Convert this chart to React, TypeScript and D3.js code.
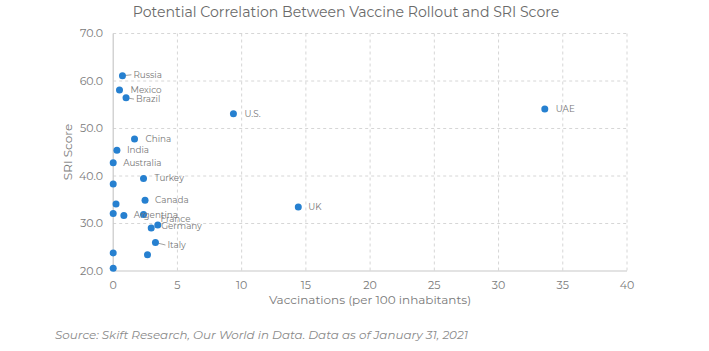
import React from "react";
import * as d3 from "d3";

const countries = ["Russia", "Mexico", "Brazil", "U.S.", "China", "India", "Australia", "Turkey", "", "Canada", "", "", "Argentina", "France", "Germany", "", "Italy", "", "", "", "UAE", "UK"];
const vaccinations = [0.72, 0.49, 1.0, 9.36, 1.66, 0.29, 0.0, 2.36, 0.0, 2.48, 0.22, 0.0, 0.83, 2.36, 2.96, 3.47, 3.29, 0.0, 2.67, 0.0, 33.6, 14.41];
const sriScores = [61.1, 58.1, 56.5, 53.1, 47.8, 45.4, 42.8, 39.5, 38.3, 34.9, 34.1, 32.1, 31.7, 31.9, 29.05, 29.7, 26.0, 23.8, 23.4, 20.6, 54.1, 33.5];
const xTicks = [0, 5, 10, 15, 20, 25, 30, 35, 40];
const yTicks = [20, 30, 40, 50, 60, 70];

// label layout (offset from point, leader line flag)
const labelLayout: Record<string, { dx: number; dy: number; leader?: boolean }> = {
  Russia: { dx: 11, dy: -1, leader: true },
  Mexico: { dx: 11, dy: 0 },
  Brazil: { dx: 10, dy: 1.5, leader: true },
  "U.S.": { dx: 11, dy: 0.5 },
  China: { dx: 11, dy: 0 },
  India: { dx: 10, dy: 0 },
  Australia: { dx: 10, dy: 0 },
  Turkey: { dx: 11, dy: 0 },
  Canada: { dx: 10, dy: 0 },
  Argentina: { dx: 10, dy: -0.5 },
  France: { dx: 17, dy: 4.5 },
  Germany: { dx: 10, dy: -2 },
  Italy: { dx: 12, dy: 2.5, leader: true },
  UAE: { dx: 11, dy: 0 },
  UK: { dx: 10, dy: 0.5 },
};

export default function App() {
  const W = 709, H = 351;
  const x = d3.scaleLinear().domain([0, 40]).range([113.2, 627]);
  const y = d3.scaleLinear().domain([20, 70]).range([271, 33.5]);
  const font = "Montserrat, 'Open Sans', 'Noto Sans', sans-serif";
  const grid = "#d6d6d6";
  const textGray = "#7a7a7a";
  const dot = "#2680d0";

  const pts = vaccinations.map((v, i) => ({ name: countries[i], v, s: sriScores[i] }));

  return (
    <svg width={W} height={H} style={{ position: "absolute", left: 0, top: 0, background: "#fff" }} fontFamily={font}>
      <text x={346} y={17} textAnchor="middle" fontSize={14.1} fill="#6a6a6a">
        Potential Correlation Between Vaccine Rollout and SRI Score
      </text>
      {yTicks.filter((t) => t > 20).map((t) => (
        <line key={"h" + t} x1={x(0)} x2={x(40)} y1={y(t)} y2={y(t)} stroke={grid} strokeDasharray="3,3" />
      ))}
      {xTicks.filter((t) => t > 0).map((t) => (
        <line key={"v" + t} x1={x(t)} x2={x(t)} y1={y(70)} y2={y(20)} stroke={grid} strokeDasharray="3,3" />
      ))}
      <line x1={x(0)} x2={x(0)} y1={y(70)} y2={y(20)} stroke="#c8c8c8" strokeWidth={1.2} />
      <line x1={x(0)} x2={x(40)} y1={y(20)} y2={y(20)} stroke="#c8c8c8" strokeWidth={1.2} />
      {yTicks.map((t) => (
        <text key={"yt" + t} x={103} y={y(t)} dy="0.35em" textAnchor="end" fontSize={11} fill={textGray}>
          {d3.format(".1f")(t)}
        </text>
      ))}
      {xTicks.map((t) => (
        <text key={"xt" + t} x={x(t)} y={289} textAnchor="middle" fontSize={11} fill={textGray}>
          {t}
        </text>
      ))}
      <text x={370} y={304} textAnchor="middle" fontSize={12} fill={textGray}>
        Vaccinations (per 100 inhabitants)
      </text>
      <text transform={`translate(72,${152}) rotate(-90)`} textAnchor="middle" fontSize={12} fill={textGray}>
        SRI Score
      </text>
      {pts.map((p, i) => {
        const l = labelLayout[p.name];
        if (!p.name || !l || !l.leader) return null;
        const cx = x(p.v), cy = y(p.s);
        return <line key={"ld" + i} x1={cx} y1={cy} x2={cx + l.dx - 2} y2={cy + l.dy} stroke="#888" strokeWidth={0.8} />;
      })}
      {pts.map((p, i) => (
        <circle key={"c" + i} cx={x(p.v)} cy={y(p.s)} r={3.5} fill={dot} />
      ))}
      {pts.map((p, i) => {
        const l = labelLayout[p.name];
        if (!p.name || !l) return null;
        return (
          <text key={"lb" + i} x={x(p.v) + l.dx} y={y(p.s) + l.dy} dy="0.35em" fontSize={8.8} fill="#777">
            {p.name}
          </text>
        );
      })}
      <text x={55} y={339} fontSize={11.9} fontStyle="italic" fill="#8a8a8a">
        Source: Skift Research, Our World in Data. Data as of January 31, 2021
      </text>
    </svg>
  );
}
